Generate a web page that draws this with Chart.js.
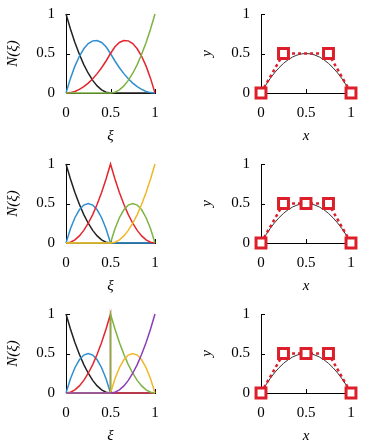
<!DOCTYPE html>
<html>
<head>
<meta charset="utf-8">
<script src="https://cdn.jsdelivr.net/npm/chart.js@4"></script>
<style>
html, body { margin: 0; padding: 0; background: #fff; overflow: hidden; width: 368px; height: 440px; }
.p { position: absolute; width: 184px; height: 150px; }
</style>
</head>
<body>
<div class="p" style="left:0;top:0"><canvas id="b1" width="184" height="150"></canvas></div>
<div class="p" style="left:184px;top:0"><canvas id="c1" width="184" height="150"></canvas></div>
<div class="p" style="left:0;top:150px"><canvas id="b2" width="184" height="150"></canvas></div>
<div class="p" style="left:184px;top:150px"><canvas id="c2" width="184" height="150"></canvas></div>
<div class="p" style="left:0;top:300px"><canvas id="b3" width="184" height="150"></canvas></div>
<div class="p" style="left:184px;top:300px"><canvas id="c3" width="184" height="150"></canvas></div>
<script>
// tick values shared by every axis
var tickVals = [0, 0.5, 1];
var tickText = ['0', '0.5', '1'];

// parameter samples
var xi = [0, .05, .1, .15, .2, .25, .3, .35, .4, .45, .5, .55, .6, .65, .7, .75, .8, .85, .9, .95, 1];
var xi3 = [0, .05, .1, .15, .2, .25, .3, .35, .4, .45, .5, .5, .55, .6, .65, .7, .75, .8, .85, .9, .95, 1];

// row 1 basis functions
var r1N0 = [1, .81, .64, .49, .36, .25, .16, .09, .04, .01, 0, 0, 0, 0, 0, 0, 0, 0, 0, 0, 0];
var r1N1 = [0, .185, .34, .465, .56, .625, .66, .665, .64, .585, .5, .405, .32, .245, .18, .125, .08, .045, .02, .005, 0];
var r1N2 = [0, .005, .02, .045, .08, .125, .18, .245, .32, .405, .5, .585, .64, .665, .66, .625, .56, .465, .34, .185, 0];
var r1N3 = [0, 0, 0, 0, 0, 0, 0, 0, 0, 0, 0, .01, .04, .09, .16, .25, .36, .49, .64, .81, 1];

// row 2 basis functions
var r2N0 = [1, .81, .64, .49, .36, .25, .16, .09, .04, .01, 0, 0, 0, 0, 0, 0, 0, 0, 0, 0, 0];
var r2N1 = [0, .18, .32, .42, .48, .5, .48, .42, .32, .18, 0, 0, 0, 0, 0, 0, 0, 0, 0, 0, 0];
var r2N2 = [0, .01, .04, .09, .16, .25, .36, .49, .64, .81, 1, .81, .64, .49, .36, .25, .16, .09, .04, .01, 0];
var r2N3 = [0, 0, 0, 0, 0, 0, 0, 0, 0, 0, 0, .18, .32, .42, .48, .5, .48, .42, .32, .18, 0];
var r2N4 = [0, 0, 0, 0, 0, 0, 0, 0, 0, 0, 0, .01, .04, .09, .16, .25, .36, .49, .64, .81, 1];

// row 3 basis functions (sampled on xi3, double point at 0.5)
var r3N0 = [1, .81, .64, .49, .36, .25, .16, .09, .04, .01, 0, 0, 0, 0, 0, 0, 0, 0, 0, 0, 0, 0];
var r3N1 = [0, .18, .32, .42, .48, .5, .48, .42, .32, .18, 0, 0, 0, 0, 0, 0, 0, 0, 0, 0, 0, 0];
var r3N2 = [0, .01, .04, .09, .16, .25, .36, .49, .64, .81, 1, 0, 0, 0, 0, 0, 0, 0, 0, 0, 0, 0];
var r3N3 = [0, 0, 0, 0, 0, 0, 0, 0, 0, 0, 0, 1, .81, .64, .49, .36, .25, .16, .09, .04, .01, 0];
var r3N4 = [0, 0, 0, 0, 0, 0, 0, 0, 0, 0, 0, 0, .18, .32, .42, .48, .5, .48, .42, .32, .18, 0];
var r3N5 = [0, 0, 0, 0, 0, 0, 0, 0, 0, 0, 0, 0, .01, .04, .09, .16, .25, .36, .49, .64, .81, 1];

// curve and control points
var curveY = [0, .095, .18, .255, .32, .375, .42, .455, .48, .495, .5, .495, .48, .455, .42, .375, .32, .255, .18, .095, 0];
var cpX1 = [0, .25, .75, 1];
var cpY1 = [0, .5, .5, 0];
var cpX2 = [0, .25, .5, .75, 1];
var cpY2 = [0, .5, .5, .5, 0];

var colors = ['#222222', '#2f8fcf', '#e3262e', '#7db342', '#f0b828', '#8a3fb8'];
var font = { family: 'Liberation Serif', size: 15 };
var titleFont = { family: 'Liberation Serif', size: 15, style: 'italic' };

function pts(xs, ys) {
    return ys.map(function (v, i) { return { x: xs[i], y: v }; });
}

var innerTicks = {
    id: 'innerTicks',
    beforeDatasetsDraw: function (chart) {
        var ctx = chart.ctx, a = chart.chartArea, x = chart.scales.x, y = chart.scales.y;
        ctx.save();
        ctx.strokeStyle = '#000';
        ctx.lineWidth = 1;
        ctx.beginPath();
        tickVals.forEach(function (v) {
            var px = Math.round(x.getPixelForValue(v)) + 0.5;
            ctx.moveTo(px, a.bottom); ctx.lineTo(px, a.bottom - 4);
            var py = Math.round(y.getPixelForValue(v)) + 0.5;
            ctx.moveTo(a.left, py); ctx.lineTo(a.left + 4, py);
        });
        ctx.stroke();
        ctx.restore();
    }
};

function setTicks(s) {
    s.ticks = tickVals.map(function (v) { return { value: v }; });
}

function label(v, i) {
    return tickText[i];
}

function makeChart(id, datasets, xTitle, yTitle, axisW, right, yPad) {
    new Chart(document.getElementById(id), {
        type: 'line',
        data: { datasets: datasets },
        options: {
            responsive: false,
            animation: false,
            events: [],
            layout: { padding: { top: 14, right: 184 - right, left: 0, bottom: 0 } },
            plugins: { legend: { display: false }, tooltip: { enabled: false } },
            scales: {
                x: {
                    type: 'linear', min: 0, max: 1,
                    afterBuildTicks: setTicks,
                    afterFit: function (s) { s.height = 57; },
                    grid: { display: false, drawTicks: true, tickLength: 8 },
                    border: { display: true, color: '#000', width: 1 },
                    ticks: { padding: 3, color: '#000', font: font, maxRotation: 0, callback: label },
                    title: { display: true, text: xTitle, color: '#000', font: titleFont, padding: { top: 0, bottom: 5 } }
                },
                y: {
                    type: 'linear', min: 0, max: 1,
                    afterBuildTicks: setTicks,
                    afterFit: function (s) { s.width = axisW; },
                    grid: { display: false, drawTicks: true, tickLength: 8 },
                    border: { display: true, color: '#000', width: 1 },
                    ticks: { padding: 3, color: '#000', font: font, callback: label },
                    title: { display: true, text: yTitle, color: '#000', font: titleFont, padding: { top: yPad, bottom: 0 } }
                }
            }
        },
        plugins: [innerTicks]
    });
}

function basis(xs, series) {
    return series.map(function (ys, i) {
        return {
            data: pts(xs, ys),
            borderColor: colors[i],
            borderWidth: 1.5,
            pointRadius: 0,
            tension: 0,
            clip: false,
            order: -i
        };
    });
}

function geometry(cx, cy) {
    return [
        {
            data: pts(cx, cy),
            borderColor: '#dc1f2b',
            borderWidth: 2.5,
            borderDash: [3, 3],
            pointStyle: 'rect',
            pointRadius: 7,
            pointBorderWidth: 3,
            pointBorderColor: '#dc1f2b',
            pointBackgroundColor: '#fff',
            tension: 0,
            clip: false,
            order: 0
        },
        {
            data: pts(xi, curveY),
            borderColor: '#333',
            borderWidth: 1,
            pointRadius: 0,
            tension: 0,
            clip: false,
            order: 1
        }
    ];
}

makeChart('b1', basis(xi, [r1N0, r1N1, r1N2, r1N3]), 'ξ', 'N(ξ)', 66, 155, 3.6);
makeChart('c1', geometry(cpX1, cpY1), 'x', 'y', 77, 167, 13.6);
makeChart('b2', basis(xi, [r2N0, r2N1, r2N2, r2N3, r2N4]), 'ξ', 'N(ξ)', 66, 155, 3.6);
makeChart('c2', geometry(cpX2, cpY2), 'x', 'y', 77, 167, 13.6);
makeChart('b3', basis(xi3, [r3N0, r3N1, r3N2, r3N3, r3N4, r3N5]), 'ξ', 'N(ξ)', 66, 155, 3.6);
makeChart('c3', geometry(cpX2, cpY2), 'x', 'y', 77, 167, 13.6);
</script>
</body>
</html>
